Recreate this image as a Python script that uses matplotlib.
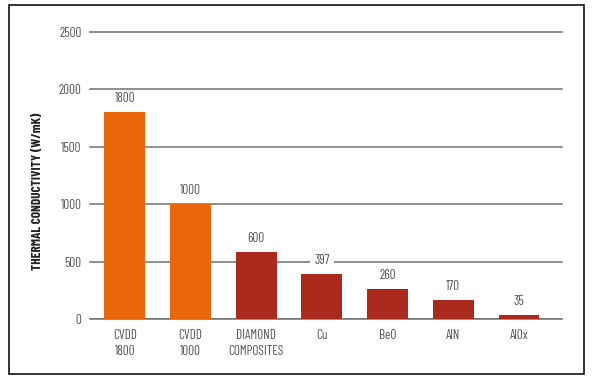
import matplotlib
matplotlib.use("Agg")
import matplotlib.pyplot as plt
from matplotlib.patches import Rectangle

categories = ["CVDD\n1800", "CVDD\n1000", "DIAMOND\nCOMPOSITES", "Cu", "BeO", "AlN", "AlOx"]
values = [1800, 1000, 585, 392, 262, 170, 35]
value_labels = ["1800", "1000", "600", "397", "260", "170", "35"]
colors = ["#EB6608", "#EB6608", "#AA2A1E", "#AA2A1E", "#AA2A1E", "#AA2A1E", "#AA2A1E"]
yticks = [0, 500, 1000, 1500, 2000, 2500]

plt.rcParams["font.family"] = ["Barlow Condensed", "DejaVu Sans"]

fig = plt.figure(figsize=(5.93, 3.83), dpi=100)
ax = fig.add_axes([0.1518, 0.1663, 0.7952, 0.7509])

x = list(range(len(categories)))
ax.bar(x, values, width=0.62, color=colors, zorder=3)
for xi, v, lab in zip(x, values, value_labels):
    t = ax.text(xi, v + 60, lab, ha="center", va="bottom", fontsize=9.5, color="#555555", zorder=4)
    if lab == "397":
        t.set_bbox(dict(facecolor="white", edgecolor="none", pad=3))

ax.set_ylim(0, 2500)
ax.set_xlim(-0.53, 6.65)
ax.set_yticks(yticks)
ax.set_yticklabels([str(t) for t in yticks], fontsize=9.5, color="#555555")
ax.set_xticks(x)
ax.set_xticklabels(categories, fontsize=9.5, color="#555555", linespacing=1.3)
ax.tick_params(axis="y", length=0, pad=6)
ax.tick_params(axis="x", length=0, pad=7)
ax.yaxis.grid(True, color="#707070", linewidth=1.1, zorder=0)
for gl in ax.get_ygridlines():
    gl.set_clip_on(False)
for s in ax.spines.values():
    s.set_visible(False)
ax.axhline(0, color="#707070", linewidth=1.1, zorder=2)

fig.text(0.063, 0.5, "THERMAL CONDUCTIVITY (W/mK)", rotation=90, ha="center", va="center",
         fontsize=9.5, fontweight="bold", color="#222222")

fig.patches.append(Rectangle((8.5 / 593, 1 - 373.5 / 383), (583.5 - 8.5) / 593, (373.5 - 5) / 383,
                             transform=fig.transFigure, fill=False, edgecolor="#111111", linewidth=1.2))

fig.savefig("out.png", dpi=100)
